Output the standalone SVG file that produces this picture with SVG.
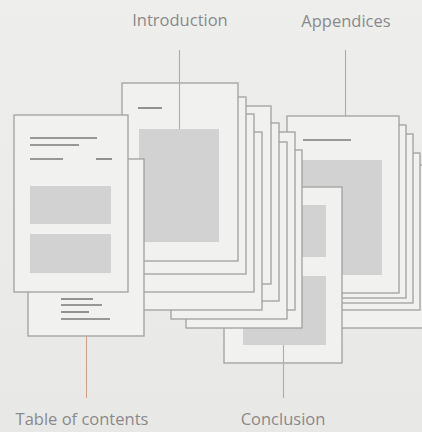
<svg xmlns="http://www.w3.org/2000/svg" width="422" height="432" viewBox="0 0 422 432">
<defs>
<linearGradient id="bg" x1="0" y1="0" x2="0" y2="1">
<stop offset="0" stop-color="#eeeeed"/>
<stop offset="1" stop-color="#e8e8e7"/>
</linearGradient>
</defs>
<style>
.pg{fill:#f1f1f0;stroke:#a0a0a0;stroke-width:1.3}
.blk{fill:#d2d2d2}
.tl{stroke:#7a7a7a;stroke-width:1.6;fill:none}
.cn{stroke:#d0a28c;stroke-width:1.1;fill:none}
.lb{font-family:"Open Sans","Liberation Sans",sans-serif;font-size:16.5px;fill:#8a8a8a;text-anchor:middle}
</style>
<rect width="422" height="432" fill="url(#bg)"/>

<g id="appendices">
<rect class="pg" x="311" y="165" width="114" height="163"/>
<rect class="pg" x="307" y="153" width="113" height="157"/>
<rect class="pg" x="300" y="134" width="113" height="169"/>
<rect class="pg" x="293" y="125" width="113" height="173"/>
<rect class="pg" x="287" y="116" width="112" height="177"/>
<line class="tl" x1="303" y1="140" x2="351" y2="140"/>
<rect class="blk" x="302" y="160" width="80" height="115"/>
</g>

<g id="conclusion">
<rect class="pg" x="224" y="187" width="118" height="176"/>
<rect class="blk" x="243" y="205" width="83" height="52"/>
<rect class="blk" x="243" y="276" width="83" height="69"/>
</g>

<g id="introduction">
<rect class="pg" x="186" y="150" width="116" height="178"/>
<rect class="pg" x="179" y="132" width="116" height="178"/>
<rect class="pg" x="171" y="142" width="116" height="177"/>
<rect class="pg" x="163" y="123" width="116" height="178"/>
<rect class="pg" x="155" y="106" width="116" height="178"/>
<rect class="pg" x="143" y="132" width="119" height="178"/>
<rect class="pg" x="138" y="114" width="116" height="178"/>
<rect class="pg" x="130" y="97" width="116" height="177"/>
<rect class="pg" x="122" y="83" width="116" height="178"/>
<line class="tl" x1="138" y1="108" x2="162" y2="108"/>
<rect class="blk" x="139" y="129" width="80" height="113"/>
</g>

<g id="table-of-contents">
<rect class="pg" x="28" y="159" width="116" height="177"/>
<line class="tl" x1="61" y1="299" x2="93" y2="299"/>
<line class="tl" x1="61" y1="305" x2="102" y2="305"/>
<line class="tl" x1="61" y1="312" x2="89" y2="312"/>
<line class="tl" x1="61" y1="319" x2="110" y2="319"/>
<rect class="pg" x="14" y="115" width="114" height="177"/>
<line class="tl" x1="30" y1="138" x2="97" y2="138"/>
<line class="tl" x1="30" y1="145" x2="79" y2="145"/>
<line class="tl" x1="30" y1="159" x2="63" y2="159"/>
<line class="tl" x1="96" y1="159" x2="112" y2="159"/>
<rect class="blk" x="30" y="186" width="81" height="38"/>
<rect class="blk" x="30" y="234" width="81" height="39"/>
</g>

<g id="connectors">
<line class="cn" x1="179.5" y1="50" x2="179.5" y2="129"/>
<line class="cn" x1="345.5" y1="50" x2="345.5" y2="116"/>
<line class="cn" x1="86.5" y1="336" x2="86.5" y2="398"/>
<line class="cn" x1="283.5" y1="345" x2="283.5" y2="398"/>
</g>

<g id="labels">
<text class="lb" x="180" y="26">Introduction</text>
<text class="lb" x="346" y="27">Appendices</text>
<text class="lb" x="82" y="425">Table of contents</text>
<text class="lb" x="283" y="425">Conclusion</text>
</g>
</svg>
